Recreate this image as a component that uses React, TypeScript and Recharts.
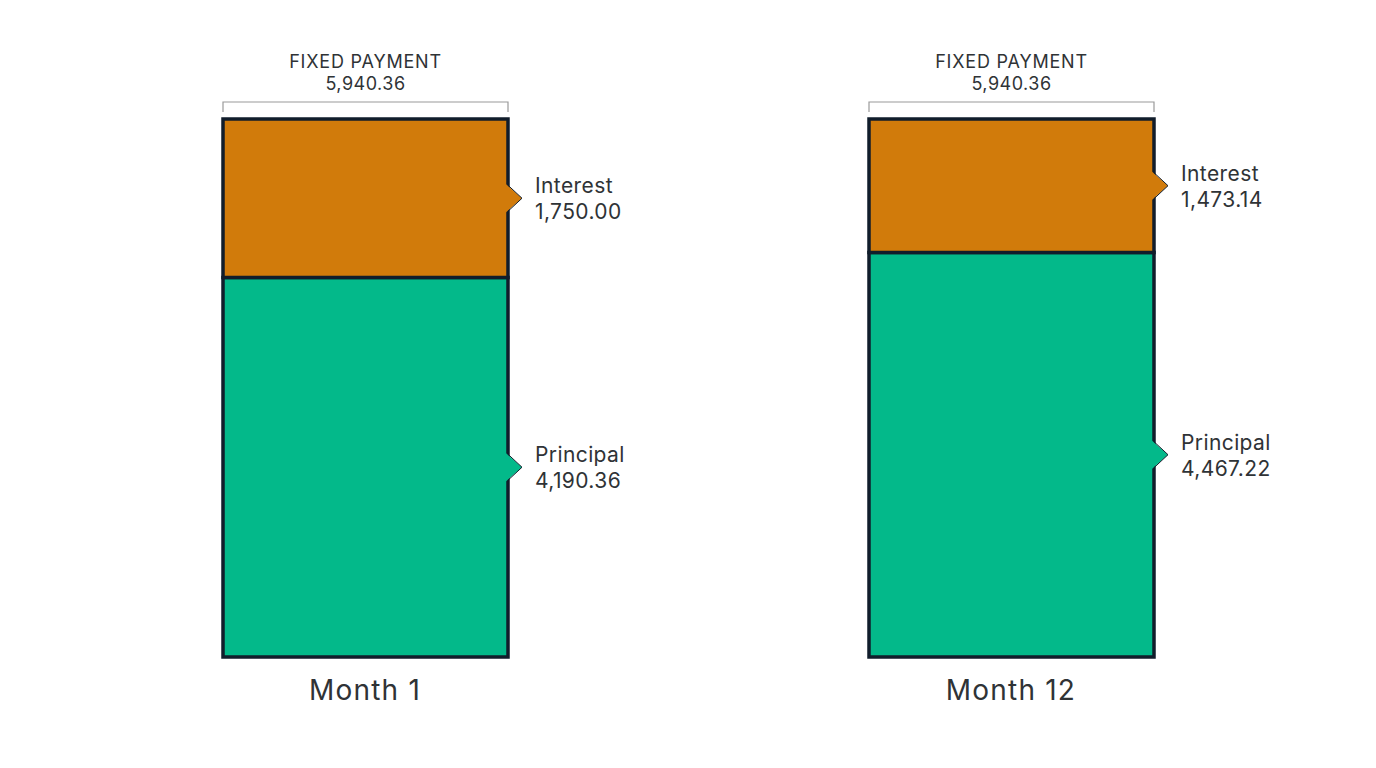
import React from "react";
import { BarChart, Bar, XAxis, YAxis, LabelList } from "recharts";

const months = ["Month 1", "Month 12"];
const principal = [4190.36, 4467.22];
const interest = [1750.0, 1473.14];
const fixedPayment = 5940.36;

const data = months.map((m, i) => ({
  month: m,
  principal: principal[i],
  interest: interest[i],
}));

const FONT = "Inter, 'Open Sans', sans-serif";
const BORDER = "#111d2b";
const ORANGE = "#d17b0b";
const GREEN = "#03b98a";
const TEXT = "#2f3336";

const fmt = (v: number) =>
  v.toLocaleString("en-US", { minimumFractionDigits: 2, maximumFractionDigits: 2 });

// arrow + name/value to the right of a segment
const sideLabel = (name: string, fill: string) => (props: any) => {
  const { x, y, width, height, value } = props;
  const right = x + width;
  const mid = y + height / 2;
  return (
    <g>
      <polygon
        points={`${right - 3},${mid - 15} ${right + 14},${mid} ${right - 3},${mid + 15}`}
        fill={fill}
      />
      <polyline
        points={`${right},${mid - 13} ${right + 14},${mid} ${right},${mid + 13}`}
        fill="none"
        stroke={BORDER}
        strokeWidth={1}
      />
      <text x={right + 27} y={mid - 5} fontSize={21} letterSpacing={0.4} fill={TEXT} fontFamily={FONT}>
        {name}
      </text>
      <text x={right + 27} y={mid + 21} fontSize={21} letterSpacing={0.4} fill={TEXT} fontFamily={FONT}>
        {fmt(value)}
      </text>
    </g>
  );
};

// bracket with the total above each bar
const TopBracket = (props: any) => {
  const { x, y, width } = props;
  const by = y - 17;
  return (
    <g>
      <polyline
        points={`${x},${by + 10} ${x},${by} ${x + width},${by} ${x + width},${by + 10}`}
        fill="none"
        stroke="#9a9a9a"
        strokeWidth={1.2}
      />
      <text x={x + width / 2} y={y - 51} textAnchor="middle" fontSize={18} letterSpacing={0.8} fill={TEXT} fontFamily={FONT}>
        FIXED PAYMENT
      </text>
      <text x={x + width / 2} y={y - 29} textAnchor="middle" fontSize={18} letterSpacing={0.5} fill={TEXT} fontFamily={FONT}>
        {fmt(fixedPayment)}
      </text>
    </g>
  );
};

const MonthTick = (props: any) => {
  const { x, y, payload } = props;
  return (
    <text x={x} y={y + 43} textAnchor="middle" fontSize={28} letterSpacing={1.2} fill={TEXT} fontFamily={FONT}>
      {payload.value}
    </text>
  );
};

const App = () => {
  return (
    <div style={{ background: "#fff" }}>
      <BarChart
        width={1360}
        height={750}
        data={data}
        margin={{ top: 111, right: 34, bottom: 41, left: 34 }}
        barCategoryGap={0}
      >
        <XAxis
          dataKey="month"
          axisLine={false}
          tickLine={false}
          tickSize={0}
          tickMargin={0}
          height={60}
          tick={<MonthTick />}
          interval={0}
        />
        <YAxis hide domain={[0, fixedPayment]} />
        <Bar
          dataKey="principal"
          stackId="a"
          barSize={285}
          fill={GREEN}
          stroke={BORDER}
          strokeWidth={3.5}
          isAnimationActive={false}
        >
          <LabelList dataKey="principal" content={sideLabel("Principal", GREEN)} />
        </Bar>
        <Bar
          dataKey="interest"
          stackId="a"
          barSize={285}
          fill={ORANGE}
          stroke={BORDER}
          strokeWidth={3.5}
          isAnimationActive={false}
        >
          <LabelList dataKey="interest" content={sideLabel("Interest", ORANGE)} />
          <LabelList dataKey="interest" content={<TopBracket />} />
        </Bar>
      </BarChart>
    </div>
  );
};

export default App;
